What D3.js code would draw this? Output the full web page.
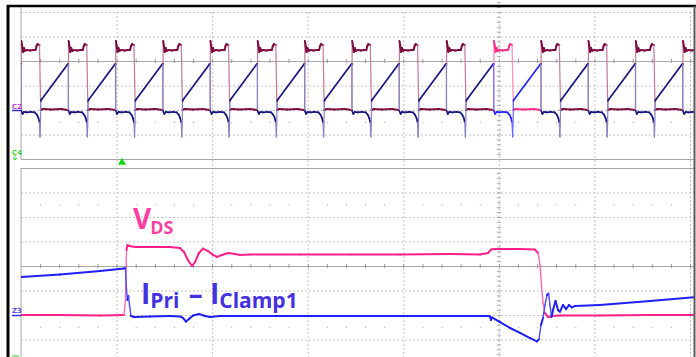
<!DOCTYPE html>
<html>
<head>
<meta charset="utf-8">
<script src="https://cdn.jsdelivr.net/npm/d3@7"></script>
<style>
  body { margin: 0; background: #fff; }
  svg { display: block; }
</style>
</head>
<body>
<svg id="scope"></svg>
<script>
// ---- data (screen divisions) ----

// top panel: rising edges of V_DS (time in divisions)
const topEdges = [-0.4945, 0, 0.4945, 0.989, 1.4835, 1.978, 2.4725, 2.967, 3.4615, 3.956,
                  4.4505, 4.945, 5.4395, 5.934, 6.4285, 6.923];
// one switching period, phase = fraction of period
const topPinkPhase = [0, 0.008, 0.025, 0.042, 0.063, 0.085, 0.127, 0.19, 0.254, 0.307, 0.328, 0.349, 0.391, 0.405, 0.417, 0.466, 0.635, 0.846, 0.99];
const topPinkVal   = [-2.0, 0.82, 0.61, 0.37, 0.53, 0.41, 0.45, 0.43, 0.45, 0.45, 0.61, 0.69, 0.65, -0.8, -2.0, -1.96, -1.98, -1.96, -2.0];
const topBluePhase = [0, 0.006, 0.032, 0.063, 0.127, 0.21, 0.296, 0.339, 0.37, 0.39, 0.403, 0.411, 0.42, 0.435, 0.984, 1.0];
const topBlueVal   = [-0.12, -2.04, -2.16, -2.08, -2.10, -2.08, -2.10, -2.2, -2.33, -2.5, -3.1, -2.61, -1.63, -1.57, -0.14, -0.12];
// the period shown enlarged underneath
const zoomWindow = [4.94, 5.44];
const triggerTime = 1.057;

// bottom panel (zoomed single period)
const vdsTime = [0, 0.408, 0.827, 1.078, 1.093, 1.104, 1.114, 1.130, 1.193, 1.350, 1.559, 1.664, 1.706, 1.747, 1.789,
  1.821, 1.862, 1.904, 1.957, 2.009, 2.051, 2.103, 2.166, 2.239, 2.292, 2.396, 2.919, 3.442, 3.966, 4.489, 4.803,
  4.886, 4.918, 4.960, 5.221, 5.378, 5.410, 5.431, 5.446, 5.462, 5.483, 5.514, 5.556, 5.640, 6.058, 6.582, 7.063];
const vdsVal = [-2.0, -2.0, -2.02, -2.0, -1.39, 0.65, 0.86, 0.82, 0.78, 0.78, 0.78, 0.73, 0.57, 0.24, 0.0,
  0.16, 0.53, 0.71, 0.61, 0.45, 0.37, 0.45, 0.53, 0.49, 0.45, 0.47, 0.47, 0.47, 0.47, 0.49, 0.47,
  0.53, 0.67, 0.69, 0.69, 0.67, 0.53, 0.04, -0.78, -1.51, -1.92, -2.08, -2.04, -2.02, -2.02, -2.0, -2.0];

const iTime = [0, 0.408, 0.827, 1.078, 1.093, 1.104, 1.114, 1.125, 1.135, 1.151, 1.182, 1.350, 1.559, 1.664, 1.695,
  1.726, 1.758, 1.800, 1.862, 1.925, 1.978, 2.082, 2.919, 3.966, 4.886, 4.907, 4.918, 4.928, 5.012, 5.117, 5.221,
  5.326, 5.399, 5.420, 5.441, 5.462, 5.483, 5.504, 5.520, 5.535, 5.551, 5.567, 5.593, 5.619, 5.640, 5.671, 5.703,
  5.734, 5.765, 5.797, 6.058, 6.582, 7.063];
const iVal = [-0.45, -0.35, -0.20, -0.10, -0.08, -0.98, -1.39, -1.22, -1.59, -2.04, -2.08, -2.06, -2.04, -2.06, -2.12,
  -2.27, -2.16, -2.02, -1.96, -2.04, -2.08, -2.04, -2.04, -2.04, -2.04, -2.06, -2.20, -2.10, -2.29, -2.53, -2.73,
  -2.94, -3.08, -2.98, -2.41, -2.12, -1.59, -1.18, -1.12, -1.59, -2.08, -1.80, -1.43, -1.80, -1.86, -1.59, -1.76,
  -1.59, -1.69, -1.63, -1.59, -1.43, -1.27];

// ---- layout ----
const W = 696, H = 357;
const svg = d3.select("#scope").attr("width", W).attr("height", H);

const x = d3.scaleLinear().domain([0, 7]).range([21, 690]);
const yTop = d3.scaleLinear().domain([4, -4]).range([-37, 159]);
const yBot = d3.scaleLinear().domain([4, -4]).range([168, 364]);
const plotL = 21, plotR = 694;

const defs = svg.append("defs");
defs.append("clipPath").attr("id", "clipTop").append("rect")
    .attr("x", plotL).attr("y", 7).attr("width", plotR - plotL).attr("height", 159 - 7);
defs.append("clipPath").attr("id", "clipBot").append("rect")
    .attr("x", plotL).attr("y", 168).attr("width", plotR - plotL).attr("height", H - 168);

const dotted = "#c4c4c4", solid = "#a8a8a8";

function cleanAxis(g, color, dash) {
    g.select(".domain").remove();
    g.selectAll(".tick line").attr("stroke", color).attr("stroke-dasharray", dash || null);
    g.selectAll("text").remove();
}

// vertical grid lines (through both panels)
svg.append("g")
    .attr("transform", "translate(0,12)")
    .call(d3.axisBottom(x).tickValues([1, 2, 3, 4, 5, 6, 7]).tickSize(H - 12).tickFormat(""))
    .call(g => cleanAxis(g, dotted, "2,2"));

// horizontal grid lines per panel
[[yTop, [2, 1, -1, -2, -3], [0, -4]], [yBot, [3, 2, 1, -1, -2, -3], [0, 4]]].forEach(([y, dots, sol]) => {
    svg.append("g")
        .attr("transform", `translate(${plotL},0)`)
        .call(d3.axisRight(y).tickValues(dots).tickSize(plotR - plotL).tickFormat(""))
        .call(g => cleanAxis(g, dotted, "2,2"));
    svg.append("g")
        .attr("transform", `translate(${plotL},0)`)
        .call(d3.axisRight(y).tickValues(sol).tickSize(plotR - plotL).tickFormat(""))
        .call(g => cleanAxis(g, solid));

    // minor ticks on the centre line
    const minor = d3.range(0.2, 7.05, 0.2);
    svg.append("g")
        .attr("transform", `translate(0,${y(0) - 2})`)
        .call(d3.axisBottom(x).tickValues(minor).tickSize(4).tickFormat(""))
        .call(g => cleanAxis(g, "#999"));
    // dot rows at +/- 2.5 div
    [2.5, -2.5].forEach(v => {
        if (y(v) < (y === yTop ? 12 : 168) || y(v) > H) return;
        svg.append("g")
            .attr("transform", `translate(0,${y(v) - 0.5})`)
            .call(d3.axisBottom(x).tickValues(minor.filter(m => Math.abs(m - Math.round(m)) > 0.05)).tickSize(1.2).tickFormat(""))
            .call(g => cleanAxis(g, "#aaa"));
    });
    // minor ticks on the vertical centre line
    svg.append("g")
        .attr("transform", `translate(${x(5) - 2},0)`)
        .call(d3.axisRight(y).tickValues(d3.range(-4, 4.01, 0.2)).tickSize(4).tickFormat(""))
        .call(g => cleanAxis(g, "#aaa"));
});

// left plot edge
svg.append("line").attr("x1", plotL).attr("x2", plotL).attr("y1", 7).attr("y2", 159).attr("stroke", solid);
svg.append("line").attr("x1", plotL).attr("x2", plotL).attr("y1", 168).attr("y2", H).attr("stroke", solid);

// ---- traces ----
function drawTrace(g, pts, y, styleFn) {
    for (let i = 1; i < pts.length; i++) {
        const x0 = x(pts[i - 1][0]), y0 = y(pts[i - 1][1]);
        const x1 = x(pts[i][0]), y1 = y(pts[i][1]);
        const steep = Math.abs(y1 - y0) > 3 * Math.abs(x1 - x0) + 4;
        const s = styleFn((pts[i - 1][0] + pts[i][0]) / 2, steep);
        g.append("line")
            .attr("x1", x0).attr("y1", y0).attr("x2", x1).attr("y2", y1)
            .attr("stroke", s.c).attr("stroke-width", s.w)
            .attr("stroke-linecap", "round");
    }
}

function buildTop(phase, vals) {
    const pts = [];
    topEdges.forEach((e, k) => {
        const p = k + 1 < topEdges.length ? topEdges[k + 1] - e : topEdges[1] - topEdges[0];
        phase.forEach((ph, j) => pts.push([e + ph * p, vals[j]]));
    });
    return pts;
}

const inZoom = t => t >= zoomWindow[0] && t <= zoomWindow[1];

const gTop = svg.append("g").attr("clip-path", "url(#clipTop)");
drawTrace(gTop, buildTop(topPinkPhase, topPinkVal), yTop, (t, steep) => inZoom(t)
    ? {c: steep ? "#ff8cc0" : "#ff2f8e", w: steep ? 1.2 : 2}
    : {c: steep ? "#c07a98" : "#7e0c40", w: steep ? 1.2 : 2});
drawTrace(gTop, buildTop(topBluePhase, topBlueVal), yTop, (t, steep) => inZoom(t)
    ? {c: steep ? "#6a6aff" : "#2626ff", w: steep ? 1.2 : 1.7}
    : {c: steep ? "#8686c4" : "#16167e", w: steep ? 1.2 : 1.7});

const gBot = svg.append("g").attr("clip-path", "url(#clipBot)");
drawTrace(gBot, vdsTime.map((t, i) => [t, vdsVal[i]]), yBot,
    (t, steep) => ({c: steep ? "#ff6aac" : "#ff1f8a", w: steep ? 1.4 : 2}));
drawTrace(gBot, iTime.map((t, i) => [t, iVal[i]]), yBot,
    (t, steep) => ({c: steep ? "#4a4aff" : "#1f1ff6", w: steep ? 1.4 : 2}));

// ---- labels ----
const labelFont = "'Open Sans', Lato, sans-serif";
const vds = svg.append("text")
    .attr("x", 133).attr("y", 229)
    .attr("font-family", labelFont).attr("font-weight", "bold")
    .attr("font-size", 28).attr("fill", "#ff3fa2");
vds.append("tspan").text("V");
vds.append("tspan").attr("font-size", 18).attr("dy", 5).attr("dx", -1).text("DS");

const ilab = svg.append("text")
    .attr("x", 141).attr("y", 304)
    .attr("font-family", labelFont).attr("font-weight", "bold")
    .attr("font-size", 28).attr("fill", "#4532df");
ilab.append("tspan").text("I");
ilab.append("tspan").attr("font-size", 21).attr("dy", 4).text("Pri");
ilab.append("tspan").attr("dy", -4).attr("dx", 2).text(" \u2013 I");
ilab.append("tspan").attr("font-size", 21).attr("dy", 4).text("Clamp1");

// ---- channel markers ----
const mk = svg.append("g").attr("font-family", "DejaVu Sans, sans-serif").attr("font-size", 7).attr("font-weight", "bold");
mk.append("text").attr("x", 12).attr("y", yTop(-2) - 1.5).attr("fill", "#c23ad0").text("C2");
mk.append("line").attr("x1", 12).attr("x2", plotL).attr("y1", yTop(-2) + 0.5).attr("y2", yTop(-2) + 0.5)
    .attr("stroke", "#3030d8").attr("stroke-width", 1.5);
mk.append("text").attr("x", 12).attr("y", 155).attr("fill", "#3ad43a").text("C4");
mk.append("path").attr("d", "M15,155V160M13,158L15,160L17,158").attr("stroke", "#3ad43a").attr("fill", "none");
mk.append("text").attr("x", 12).attr("y", yBot(-2) - 2).attr("fill", "#6a4ae8").text("Z3");
mk.append("line").attr("x1", 12).attr("x2", plotL).attr("y1", yBot(-2) + 0.5).attr("y2", yBot(-2) + 0.5)
    .attr("stroke", "#3030f0").attr("stroke-width", 1.5);
mk.append("line").attr("x1", 12).attr("x2", 19).attr("y1", 356).attr("y2", 356)
    .attr("stroke", "#7ae07a").attr("stroke-width", 1.5);

// trigger marker
svg.append("path")
    .attr("d", d3.symbol(d3.symbolTriangle, 28))
    .attr("transform", `translate(${x(triggerTime)},162.5)`)
    .attr("fill", "#12d812");

// ---- frame ----
svg.append("line").attr("x1", 8).attr("x2", 8).attr("y1", 5).attr("y2", H).attr("stroke", "#000").attr("stroke-width", 3);
svg.append("line").attr("x1", 7).attr("x2", W).attr("y1", 6).attr("y2", 6).attr("stroke", "#000").attr("stroke-width", 2.5);
svg.append("line").attr("x1", 694.5).attr("x2", 694.5).attr("y1", 6).attr("y2", H).attr("stroke", "#5a5a5a").attr("stroke-width", 2);
</script>
</body>
</html>
